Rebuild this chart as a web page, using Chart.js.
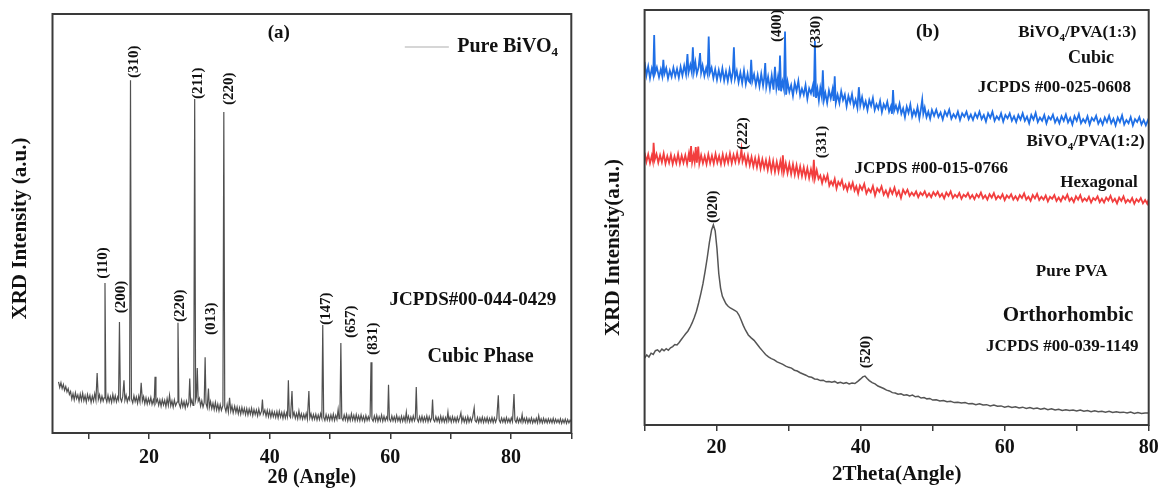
<!DOCTYPE html>
<html>
<head>
<meta charset="utf-8">
<script src="https://cdn.jsdelivr.net/npm/chart.js@4"></script>
<style>
  html, body { margin: 0; padding: 0; background: #fff; overflow: hidden; width: 1158px; height: 488px; }
  canvas { position: absolute; top: 0; }
  #chartA { left: 0; }
  #chartB { left: 590px; }
</style>
</head>
<body>
<canvas id="chartA" width="590" height="488"></canvas>
<canvas id="chartB" width="578" height="488"></canvas>
<script>
// ---- dados ----

// (a) BiVO4 puro: [2θ, intensidade]
const bivo4Pure = [
  [5.0,12.2],[5.2,10.9],[5.4,12.0],[5.6,10.6],[5.8,11.6],[6.0,10.2],[6.2,11.1],[6.4,9.8],[6.6,10.6],[6.8,9.2],
  [7.0,9.9],[7.2,8.1],[7.4,9.4],[7.6,7.9],[7.8,9.6],[8.0,8.2],[8.2,9.1],[8.4,7.6],[8.6,9.3],[8.8,7.8],
  [9.0,9.5],[9.2,7.7],[9.4,8.9],[9.6,7.4],[9.8,9.2],[10.0,7.9],[10.2,9.0],[10.4,7.3],[10.6,8.8],[10.8,7.6],
  [11.0,9.4],[11.2,7.8],[11.4,14.3],[11.6,8.0],[11.8,9.1],[12.0,7.5],[12.2,8.8],[12.4,7.6],[12.55,8.4],[12.7,35.8],
  [12.85,8.2],[13.0,7.4],[13.2,9.0],[13.4,7.5],[13.6,8.7],[13.8,7.3],[14.0,9.2],[14.2,7.6],[14.4,8.9],[14.6,7.4],
  [14.8,8.6],[14.95,7.9],[15.1,26.5],[15.25,8.3],[15.45,7.5],[15.65,8.8],[15.85,12.6],[16.0,7.8],[16.2,9.0],[16.4,7.4],
  [16.6,8.5],[16.78,7.9],[16.93,84.2],[17.08,8.2],[17.3,7.2],[17.5,8.9],[17.7,7.5],[17.9,8.6],[18.1,7.1],[18.3,8.8],
  [18.5,7.4],[18.7,12.0],[18.9,7.6],[19.1,8.7],[19.3,7.0],[19.5,8.4],[19.7,6.9],[19.9,8.2],[20.1,7.1],[20.3,8.5],
  [20.5,6.8],[20.7,7.9],[20.85,7.0],[21.0,13.4],[21.15,7.2],[21.4,8.1],[21.6,6.6],[21.8,7.9],[22.0,6.4],[22.2,8.0],
  [22.4,6.7],[22.6,7.8],[22.8,6.3],[23.0,8.2],[23.2,6.6],[23.4,9.0],[23.6,6.5],[23.8,7.7],[24.0,6.2],[24.2,7.9],
  [24.4,6.5],[24.65,7.4],[24.8,26.3],[24.95,7.2],[25.2,6.1],[25.4,7.8],[25.6,6.3],[25.8,7.5],[26.0,6.0],[26.2,7.6],
  [26.4,6.4],[26.6,7.3],[26.75,13.0],[26.9,6.8],[27.1,7.9],[27.3,6.6],[27.42,7.5],[27.57,79.7],[27.72,7.8],[27.85,8.6],
  [28.0,15.5],[28.15,7.6],[28.35,8.3],[28.55,6.4],[28.75,7.7],[28.95,6.2],[29.15,7.3],[29.3,18.1],[29.45,7.0],[29.65,6.0],
  [29.85,10.6],[30.0,6.1],[30.2,7.5],[30.4,5.8],[30.6,7.1],[30.8,5.6],[31.0,7.3],[31.2,5.5],[31.4,6.9],[31.6,5.3],
  [31.8,6.8],[32.0,5.4],[32.25,6.6],[32.4,76.6],[32.55,6.2],[32.75,5.1],[32.95,6.8],[33.15,5.0],[33.35,8.4],[33.55,5.2],
  [33.75,6.5],[33.95,4.8],[34.2,6.4],[34.4,4.9],[34.6,6.2],[34.8,4.6],[35.0,6.0],[35.2,4.5],[35.4,6.1],[35.6,4.7],
  [35.8,5.9],[36.0,4.4],[36.2,5.8],[36.4,4.3],[36.6,5.7],[36.8,4.5],[37.0,5.9],[37.2,4.2],[37.4,5.6],[37.6,4.4],
  [37.8,5.5],[38.0,4.1],[38.2,5.7],[38.4,4.3],[38.65,5.2],[38.8,8.0],[38.95,4.5],[39.2,5.5],[39.4,4.0],[39.6,5.4],
  [39.8,3.9],[40.0,5.3],[40.2,3.8],[40.4,5.2],[40.6,3.9],[40.8,5.0],[41.0,3.7],[41.2,5.1],[41.4,3.6],[41.6,5.2],
  [41.8,3.8],[42.0,4.9],[42.2,3.5],[42.4,5.0],[42.6,3.6],[42.8,4.8],[42.95,3.9],[43.1,12.6],[43.25,4.2],[43.45,3.7],
  [43.7,10.0],[43.85,4.0],[44.05,4.9],[44.25,3.5],[44.45,4.7],[44.65,3.4],[44.85,5.3],[45.05,3.5],[45.25,4.6],[45.45,3.3],
  [45.65,4.5],[45.85,3.4],[46.05,4.7],[46.25,3.3],[46.5,10.0],[46.65,3.6],[46.85,4.6],[47.05,3.2],[47.25,4.4],[47.45,3.3],
  [47.65,4.5],[47.85,3.1],[48.05,4.3],[48.25,3.2],[48.45,4.6],[48.65,3.5],[48.8,25.8],[48.95,3.8],[49.15,3.0],[49.35,4.4],
  [49.55,3.1],[49.75,4.2],[49.95,3.0],[50.15,4.3],[50.35,3.1],[50.55,4.5],[50.75,3.0],[50.95,4.2],[51.15,3.2],[51.35,5.6],
  [51.5,3.4],[51.65,4.1],[51.8,21.5],[51.95,3.6],[52.15,3.0],[52.35,4.3],[52.55,3.1],[52.75,4.4],[52.95,2.9],[53.15,4.1],
  [53.35,3.0],[53.55,4.6],[53.75,3.1],[53.95,4.2],[54.15,2.9],[54.35,4.4],[54.55,3.0],[54.75,4.1],[54.95,2.9],[55.15,4.3],
  [55.35,3.0],[55.55,4.0],[55.75,2.8],[55.95,4.2],[56.15,3.0],[56.35,3.9],[56.5,3.1],[56.65,4.0],[56.8,16.9],[56.95,3.4],
  [57.15,2.8],[57.35,4.1],[57.55,2.9],[57.75,4.2],[57.95,2.8],[58.15,3.9],[58.35,2.9],[58.55,4.3],[58.75,2.8],[58.95,4.0],
  [59.15,2.9],[59.35,3.8],[59.55,3.1],[59.7,11.5],[59.85,3.3],[60.05,2.8],[60.25,4.1],[60.45,2.9],[60.65,3.9],[60.85,2.8],
  [61.05,4.2],[61.25,2.9],[61.45,3.8],[61.65,2.7],[61.85,4.0],[62.05,2.8],[62.25,3.9],[62.45,2.8],[62.65,5.0],[62.8,2.9],
  [63.0,4.0],[63.2,2.7],[63.4,3.8],[63.6,2.8],[63.8,4.1],[64.0,2.9],[64.15,3.6],[64.3,11.0],[64.45,3.4],[64.65,2.7],
  [64.85,3.9],[65.05,2.8],[65.25,4.0],[65.45,2.7],[65.65,3.8],[65.85,2.8],[66.05,4.1],[66.25,2.7],[66.45,3.9],[66.65,2.8],
  [66.85,3.6],[67.0,8.0],[67.15,3.2],[67.35,2.7],[67.55,3.9],[67.75,2.8],[67.95,3.7],[68.15,2.6],[68.35,4.0],[68.55,2.7],
  [68.75,3.8],[68.95,2.6],[69.15,3.7],[69.35,2.7],[69.55,5.0],[69.7,2.9],[69.9,3.8],[70.1,2.6],[70.3,3.9],[70.5,2.7],
  [70.7,3.7],[70.9,2.6],[71.1,3.8],[71.3,2.7],[71.5,3.6],[71.7,4.8],[71.85,2.7],[72.05,3.8],[72.25,2.6],[72.45,3.7],
  [72.65,2.5],[72.85,3.9],[73.05,2.6],[73.25,3.6],[73.45,2.7],[73.65,3.8],[73.9,6.0],[74.05,3.0],[74.25,2.6],[74.45,3.7],
  [74.65,2.5],[74.85,3.6],[75.05,2.6],[75.25,3.8],[75.45,2.5],[75.65,3.6],[75.85,2.6],[76.05,3.7],[76.25,2.5],[76.45,3.5],
  [76.65,2.6],[76.85,3.7],[77.05,2.5],[77.25,3.6],[77.45,2.6],[77.65,3.5],[77.9,9.0],[78.05,3.1],[78.25,2.5],[78.45,3.6],
  [78.65,2.6],[78.85,3.5],[79.05,2.5],[79.25,3.7],[79.45,2.6],[79.65,3.4],[79.85,2.5],[80.05,3.6],[80.25,2.7],[80.5,9.3],
  [80.65,3.1],[80.85,2.5],[81.05,3.6],[81.25,2.5],[81.45,3.4],[81.65,2.6],[81.85,4.4],[82.0,2.6],[82.2,3.5],[82.4,2.5],
  [82.6,3.6],[82.8,2.4],[83.0,3.4],[83.2,2.5],[83.4,3.6],[83.6,2.4],[83.8,3.3],[84.0,2.5],[84.2,3.5],[84.4,2.4],
  [84.6,4.1],[84.8,2.5],[85.0,3.4],[85.2,2.4],[85.4,3.5],[85.6,2.5],[85.8,3.3],[86.0,2.4],[86.2,3.4],[86.4,2.5],
  [86.6,3.3],[86.8,2.4],[87.0,3.5],[87.2,2.4],[87.4,3.3],[87.6,2.5],[87.8,3.2],[88.0,2.4],[88.2,3.4],[88.4,2.3],
  [88.6,3.2],[88.8,2.4],[89.0,3.3],[89.2,2.3],[89.4,3.2],[89.6,2.4],[89.8,3.1],[90.0,2.6]
];

// (b) BiVO4/PVA (1:3)
const bivo4Pva13 = [
  [10.0,87.5],[10.25,84.2],[10.5,86.4],[10.75,83.6],[11.0,85.9],[11.2,84.4],[11.33,94.0],[11.45,84.8],[11.7,86.2],[12.0,83.8],
  [12.25,85.7],[12.45,84.1],[12.6,88.0],[12.75,84.6],[13.0,86.0],[13.25,83.5],[13.5,85.4],[13.75,83.9],[14.0,86.1],[14.25,84.0],
  [14.5,85.8],[14.75,83.7],[15.0,86.3],[15.25,84.2],[15.5,86.6],[15.75,84.5],[15.95,89.4],[16.1,84.9],[16.35,86.8],[16.55,85.0],
  [16.7,91.0],[16.85,85.2],[17.05,87.4],[17.25,84.6],[17.5,86.2],[17.7,89.6],[17.85,84.9],[18.05,86.6],[18.3,84.1],[18.55,86.0],
  [18.75,84.5],[18.9,93.6],[19.05,84.8],[19.3,86.1],[19.55,83.6],[19.8,85.7],[20.05,83.2],[20.3,85.5],[20.55,83.4],[20.8,85.9],
  [21.05,83.0],[21.3,85.2],[21.55,82.9],[21.8,85.6],[22.05,83.1],[22.25,85.0],[22.4,91.0],[22.55,83.5],[22.8,85.3],[23.05,82.6],
  [23.3,84.9],[23.55,82.4],[23.8,85.4],[24.05,82.2],[24.3,84.6],[24.45,82.9],[24.65,82.5],[24.8,88.0],[24.95,82.8],[25.2,84.5],
  [25.45,81.9],[25.7,84.3],[25.95,81.6],[26.2,84.6],[26.45,81.8],[26.6,83.5],[26.75,87.2],[26.9,81.5],[27.15,83.9],[27.4,81.0],
  [27.65,84.2],[27.9,80.8],[28.1,86.3],[28.3,81.2],[28.5,83.6],[28.65,80.6],[28.8,89.0],[28.95,80.4],[29.15,82.7],[29.35,80.9],
  [29.5,94.8],[29.65,79.6],[29.85,82.7],[30.1,80.3],[30.35,81.9],[30.6,79.3],[30.85,82.4],[31.1,80.5],[31.35,82.9],[31.6,79.4],
  [31.85,81.0],[32.1,79.6],[32.35,81.9],[32.6,78.6],[32.85,81.1],[33.1,79.9],[33.35,81.7],[33.5,79.1],[33.65,92.6],[33.8,78.8],
  [34.0,81.0],[34.2,78.2],[34.4,81.2],[34.6,79.1],[34.75,85.5],[34.9,78.3],[35.1,80.0],[35.35,77.6],[35.6,80.6],[35.85,78.7],
  [36.1,80.9],[36.25,78.1],[36.4,84.0],[36.55,77.6],[36.8,79.6],[37.05,77.6],[37.3,80.4],[37.55,78.3],[37.8,79.6],[38.05,76.8],
  [38.3,79.3],[38.55,77.7],[38.8,79.7],[39.05,76.9],[39.3,78.4],[39.55,76.4],[39.75,81.4],[39.95,77.0],[40.2,79.0],[40.45,76.6],
  [40.7,78.0],[40.95,75.9],[41.2,78.3],[41.45,76.9],[41.7,78.8],[41.95,75.9],[42.2,77.3],[42.45,76.2],[42.7,78.1],[42.95,75.4],
  [43.2,77.3],[43.45,76.3],[43.7,77.9],[43.95,75.5],[44.2,76.8],[44.35,75.0],[44.5,80.7],[44.65,75.7],[44.9,77.0],[45.15,75.5],
  [45.4,77.4],[45.65,75.0],[45.9,76.3],[46.15,74.2],[46.4,76.7],[46.65,75.2],[46.9,77.2],[47.15,74.3],[47.4,75.8],[47.65,74.6],
  [47.9,76.6],[48.15,73.9],[48.35,75.9],[48.55,78.4],[48.7,75.0],[48.9,76.5],[49.15,74.2],[49.4,75.5],[49.65,73.8],[49.9,75.9],
  [50.2,74.5],[50.5,76.0],[50.8,74.2],[51.1,75.3],[51.4,73.6],[51.7,75.6],[52.0,74.5],[52.3,76.0],[52.6,73.8],[52.9,74.9],
  [53.2,74.0],[53.5,75.5],[53.8,73.5],[54.1,75.1],[54.4,74.3],[54.7,75.5],[55.0,73.7],[55.3,74.8],[55.6,73.5],[55.9,75.1],
  [56.2,74.0],[56.5,75.5],[56.8,73.7],[57.1,74.7],[57.4,73.1],[57.7,75.1],[58.0,74.0],[58.3,75.5],[58.6,73.3],[58.9,74.4],
  [59.2,73.6],[59.5,75.1],[59.8,73.1],[60.1,74.7],[60.4,73.9],[60.7,75.1],[61.0,73.3],[61.3,74.4],[61.6,73.0],[61.9,74.7],
  [62.2,73.6],[62.5,75.1],[62.8,73.3],[63.1,74.3],[63.4,72.7],[63.7,74.7],[64.0,73.6],[64.3,75.2],[64.6,73.0],[64.9,74.1],
  [65.2,73.3],[65.5,74.7],[65.8,72.7],[66.1,74.3],[66.4,73.6],[66.7,74.8],[67.0,72.9],[67.3,74.0],[67.6,72.7],[67.9,74.4],
  [68.2,73.3],[68.5,74.8],[68.8,72.9],[69.1,74.0],[69.4,72.4],[69.7,74.4],[70.0,73.3],[70.3,74.9],[70.6,72.7],[70.9,73.7],
  [71.2,72.9],[71.5,74.4],[71.8,72.4],[72.1,74.0],[72.4,73.3],[72.7,74.5],[73.0,72.6],[73.3,73.7],[73.6,72.4],[73.9,74.1],
  [74.2,73.0],[74.5,74.5],[74.8,72.7],[75.1,73.8],[75.4,72.2],[75.7,74.1],[76.0,73.0],[76.3,74.6],[76.6,72.4],[76.9,73.5],
  [77.2,72.7],[77.5,74.2],[77.8,72.2],[78.1,73.7],[78.4,73.0],[78.7,74.2],[79.0,72.4],[79.3,73.5],[79.6,72.2],[80.0,73.9]
];

// (b) BiVO4/PVA (1:2)
const bivo4Pva12 = [
  [10.0,65.6],[10.25,63.4],[10.5,65.2],[10.75,63.1],[11.0,64.9],[11.15,63.6],[11.25,68.0],[11.4,63.9],[11.65,65.3],[11.9,63.2],
  [12.15,65.0],[12.4,63.3],[12.65,65.4],[12.9,63.0],[13.15,64.8],[13.4,63.2],[13.65,65.1],[13.9,62.9],[14.15,64.7],[14.4,63.1],
  [14.65,65.3],[14.9,63.0],[15.15,64.9],[15.4,63.2],[15.65,65.0],[15.9,62.9],[16.15,65.4],[16.3,63.4],[16.45,67.2],[16.6,63.3],
  [16.8,65.1],[16.95,63.5],[17.1,67.0],[17.25,63.2],[17.45,67.1],[17.6,63.0],[17.85,65.0],[18.1,63.1],[18.35,64.8],[18.6,62.9],
  [18.85,65.2],[19.1,63.1],[19.35,64.9],[19.6,63.0],[19.85,65.3],[20.1,63.2],[20.35,64.8],[20.6,62.9],[20.85,65.2],[21.1,63.0],
  [21.35,65.0],[21.6,63.2],[21.85,65.4],[22.1,63.1],[22.35,65.1],[22.6,63.4],[22.85,65.5],[23.1,63.3],[23.3,64.6],[23.45,66.5],
  [23.6,63.5],[23.85,65.0],[24.1,62.8],[24.35,64.9],[24.6,62.6],[24.85,64.6],[25.1,62.3],[25.35,64.3],[25.6,62.1],[25.85,64.4],
  [26.1,61.8],[26.35,64.0],[26.6,61.9],[26.85,63.8],[27.1,61.5],[27.35,63.9],[27.6,61.2],[27.85,63.6],[28.1,61.0],[28.35,63.4],
  [28.6,61.1],[28.85,63.5],[29.05,61.3],[29.2,65.0],[29.35,61.0],[29.6,63.1],[29.85,60.7],[30.1,62.9],[30.35,60.5],[30.6,62.8],
  [30.85,60.3],[31.1,62.6],[31.35,60.1],[31.6,62.3],[31.85,60.0],[32.1,62.1],[32.35,59.8],[32.6,61.9],[32.85,59.5],[33.1,61.6],
  [33.35,59.6],[33.5,63.9],[33.65,59.4],[33.9,61.4],[34.15,59.3],[34.4,60.1],[34.65,58.3],[34.9,60.0],[35.15,58.8],[35.4,60.2],
  [35.65,57.7],[35.9,58.7],[36.15,57.8],[36.4,59.3],[36.65,57.0],[36.9,58.6],[37.15,57.8],[37.4,59.0],[37.65,57.0],[37.9,57.9],
  [38.15,56.5],[38.4,58.2],[38.65,57.0],[38.9,58.4],[39.15,56.5],[39.4,57.5],[39.65,55.8],[39.9,57.7],[40.2,56.7],[40.5,58.1],
  [40.8,55.8],[41.1,56.9],[41.4,56.1],[41.7,57.6],[42.0,55.3],[42.3,57.0],[42.6,56.2],[42.9,57.5],[43.2,55.5],[43.5,56.5],
  [43.8,55.1],[44.1,56.9],[44.4,55.7],[44.7,57.2],[45.0,55.3],[45.3,56.4],[45.6,54.7],[45.9,56.7],[46.2,55.7],[46.5,56.7],
  [46.8,55.2],[47.1,56.0],[47.4,55.3],[47.7,56.3],[48.0,54.9],[48.3,56.0],[48.6,55.4],[48.9,56.3],[49.2,55.0],[49.5,55.8],
  [49.8,54.9],[50.1,56.1],[50.4,55.3],[50.7,56.2],[51.0,55.0],[51.3,55.7],[51.6,54.6],[51.9,56.0],[52.2,55.2],[52.5,56.3],
  [52.8,54.7],[53.1,55.5],[53.4,54.9],[53.7,55.9],[54.0,54.5],[54.3,55.5],[54.6,55.0],[54.9,55.9],[55.2,54.6],[55.5,55.4],
  [55.8,54.4],[56.1,55.6],[56.4,54.9],[56.7,56.0],[57.0,54.6],[57.3,55.3],[57.6,54.3],[57.9,55.6],[58.2,54.8],[58.5,55.9],
  [58.8,54.4],[59.1,55.2],[59.4,54.6],[59.7,55.6],[60.0,54.2],[60.3,55.3],[60.6,54.7],[60.9,55.6],[61.2,54.3],[61.5,55.1],
  [61.8,54.2],[62.1,55.4],[62.4,54.7],[62.7,55.8],[63.0,54.3],[63.3,55.0],[63.6,54.0],[63.9,55.4],[64.2,54.6],[64.5,55.7],
  [64.8,54.2],[65.1,55.0],[65.4,54.3],[65.7,55.3],[66.0,53.9],[66.3,55.0],[66.6,54.5],[66.9,55.4],[67.2,54.0],[67.5,54.8],
  [67.8,53.9],[68.1,55.1],[68.4,54.4],[68.7,55.5],[69.0,54.0],[69.3,54.7],[69.6,53.7],[69.9,55.1],[70.2,54.3],[70.5,55.4],
  [70.8,53.9],[71.1,54.6],[71.4,54.0],[71.7,55.0],[72.0,53.6],[72.3,54.7],[72.6,54.2],[72.9,55.1],[73.2,53.7],[73.5,54.5],
  [73.8,53.6],[74.1,54.8],[74.4,54.1],[74.7,55.2],[75.0,53.8],[75.3,54.5],[75.6,53.4],[75.9,54.8],[76.2,54.0],[76.5,55.1],
  [76.8,53.6],[77.1,54.3],[77.4,53.7],[77.7,54.7],[78.0,53.3],[78.3,54.4],[78.6,53.8],[78.9,54.7],[79.2,53.4],[79.5,54.2],
  [79.8,53.3],[80.0,54.4]
];

// (b) PVA puro
const pvaPure = [
  [10.0,16.1],[10.3,16.9],[10.6,16.4],[10.9,17.3],[11.2,17.0],[11.5,17.9],[11.8,18.1],[12.1,17.6],[12.4,18.3],[12.7,17.9],
  [13.0,18.4],[13.3,18.0],[13.6,18.6],[13.9,18.9],[14.2,19.4],[14.5,19.3],[14.8,19.9],[15.1,20.6],[15.4,21.3],[15.7,22.0],
  [16.0,22.6],[16.3,23.5],[16.6,24.6],[16.9,25.9],[17.2,27.4],[17.5,29.4],[17.8,31.6],[18.1,34.0],[18.4,37.0],[18.7,40.3],
  [19.0,44.0],[19.3,47.0],[19.55,48.2],[19.8,46.8],[20.05,42.5],[20.3,36.5],[20.55,33.0],[20.8,31.0],[21.05,30.1],[21.3,29.2],
  [21.6,28.6],[21.9,28.2],[22.2,27.9],[22.5,27.6],[22.8,27.3],[23.1,26.5],[23.4,25.3],[23.7,24.0],[24.0,22.9],[24.4,21.7],
  [24.8,21.0],[25.2,20.4],[25.6,19.5],[26.0,18.6],[26.4,17.8],[26.8,17.0],[27.2,16.4],[27.6,16.0],[28.0,15.7],[28.4,15.2],
  [28.8,14.9],[29.2,14.6],[29.6,14.2],[30.0,13.9],[30.4,13.7],[30.8,13.2],[31.2,13.0],[31.6,12.6],[32.0,12.3],[32.4,12.0],
  [32.8,11.6],[33.2,11.5],[33.6,11.1],[34.0,11.0],[34.4,10.7],[34.8,10.8],[35.2,10.4],[35.6,10.5],[36.0,10.3],[36.4,10.5],
  [36.8,10.1],[37.2,10.3],[37.6,10.0],[38.0,10.2],[38.4,9.9],[38.8,10.1],[39.2,10.0],[39.6,10.5],[40.0,11.1],[40.3,11.6],
  [40.6,11.8],[40.9,11.2],[41.2,10.7],[41.6,10.2],[42.0,9.9],[42.4,9.4],[42.8,9.1],[43.2,8.8],[43.6,8.4],[44.0,8.2],
  [44.4,7.8],[44.8,7.7],[45.2,7.4],[45.6,7.5],[46.0,7.2],[46.4,7.3],[46.8,7.0],[47.2,7.2],[47.6,6.8],[48.0,6.9],
  [48.4,6.5],[48.8,6.6],[49.2,6.3],[49.6,6.4],[50.0,6.0],[50.5,6.1],[51.0,5.8],[51.5,5.9],[52.0,5.6],[52.5,5.7],
  [53.0,5.4],[53.5,5.5],[54.0,5.3],[54.5,5.4],[55.0,5.1],[55.5,5.2],[56.0,4.9],[56.5,5.1],[57.0,4.8],[57.5,4.9],
  [58.0,4.6],[58.5,4.8],[59.0,4.5],[59.5,4.6],[60.0,4.3],[60.5,4.5],[61.0,4.2],[61.5,4.4],[62.0,4.1],[62.5,4.3],
  [63.0,4.0],[63.5,4.2],[64.0,3.9],[64.5,4.1],[65.0,3.8],[65.5,4.0],[66.0,3.7],[66.5,3.9],[67.0,3.6],[67.5,3.8],
  [68.0,3.5],[68.5,3.7],[69.0,3.5],[69.5,3.6],[70.0,3.4],[70.5,3.6],[71.0,3.3],[71.5,3.5],[72.0,3.2],[72.5,3.4],
  [73.0,3.2],[73.5,3.3],[74.0,3.1],[74.5,3.3],[75.0,3.0],[75.5,3.2],[76.0,3.0],[76.5,3.1],[77.0,2.9],[77.5,3.1],
  [78.0,2.8],[78.5,3.0],[79.0,2.8],[79.5,2.9],[80.0,2.9]
];

// eixos
const ticksA = [10, 20, 30, 40, 50, 60, 70, 80, 90];
const ticksB = [10, 20, 30, 40, 50, 60, 70, 80];
const labeledTicks = [20, 40, 60, 80];

// índices de Miller (2θ e intensidade da base do rótulo)
const peakTagsA = [
  ['(110)', 12.4, 36.8], ['(200)', 15.4, 28.6], ['(310)', 17.45, 84.7], ['(220)', 25.2, 26.5],
  ['(211)', 28.2, 79.7], ['(013)', 30.3, 23.4], ['(220)', 33.3, 78.3], ['(147)', 49.3, 25.8],
  ['(657)', 53.5, 22.7], ['(831)', 57.2, 18.6]
];
const peakTagsB = [
  ['(400)', 28.4, 92.3], ['(330)', 33.8, 90.8], ['(222)', 23.7, 66.3], ['(331)', 34.7, 64.3],
  ['(020)', 19.45, 48.7], ['(520)', 40.7, 13.7]
];

// textos ("_" marca o índice subscrito)
const notesA = [
  ['(a)', 41.5, 95.5, 19],
  ['JCPDS#00-044-0429', 73.7, 31.7, 19],
  ['Cubic Phase', 74.95, 18.1, 20]
];
const notesB = [
  ['(b)', 49.3, 94.7, 19],
  ['BiVO_4/PVA(1:3)', 70.1, 94.5, 17],
  ['Cubic', 72.0, 88.4, 18],
  ['JCPDS #00-025-0608', 66.9, 81.2, 17],
  ['BiVO_4/PVA(1:2)', 71.25, 68.2, 17],
  ['JCPDS #00-015-0766', 49.8, 61.9, 17],
  ['Hexagonal', 73.1, 58.3, 17],
  ['Pure PVA', 69.3, 36.9, 17],
  ['Orthorhombic', 68.8, 26.3, 21],
  ['JCPDS #00-039-1149', 68.0, 18.9, 17]
];

const FONT = '"Liberation Serif", "Times New Roman", serif';

// texto com subscrito: "BiVO_4" -> BiVO + 4 rebaixado
function drawRich(ctx, text, px, py, size, align) {
  const parts = text.split('_');
  const segs = [[parts[0], false]];
  parts.slice(1).forEach(p => { segs.push([p[0], true]); if (p.length > 1) segs.push([p.slice(1), false]); });
  const subSize = Math.round(size * 0.65);
  let total = 0;
  segs.forEach(s => {
    ctx.font = `bold ${s[1] ? subSize : size}px ${FONT}`;
    s.push(ctx.measureText(s[0]).width);
    total += s[2];
  });
  let cx = align === 'left' ? px : px - total / 2;
  ctx.textAlign = 'left';
  ctx.textBaseline = 'middle';
  segs.forEach(s => {
    ctx.font = `bold ${s[1] ? subSize : size}px ${FONT}`;
    ctx.fillText(s[0], cx, s[1] ? py + size * 0.3 : py);
    cx += s[2];
  });
}

// moldura, título do eixo y, rótulos e legenda
const xrdDecor = {
  id: 'xrdDecor',
  afterDraw(chart, args, opts) {
    const { ctx, chartArea: a, scales: { x, y } } = chart;
    ctx.save();
    ctx.strokeStyle = '#3a3a3a';
    ctx.lineWidth = 2;
    ctx.strokeRect(a.left, a.top, a.right - a.left, a.bottom - a.top);

    ctx.fillStyle = '#111';
    // título do eixo y
    ctx.save();
    ctx.translate(a.left - opts.yTitleGap, (a.top + a.bottom) / 2 + opts.yTitleShift);
    ctx.rotate(-Math.PI / 2);
    ctx.font = `bold 21px ${FONT}`;
    ctx.textAlign = 'center';
    ctx.textBaseline = 'middle';
    ctx.fillText(opts.yTitle, 0, 0);
    ctx.restore();

    // índices dos picos (verticais)
    opts.peaks.forEach(([t, px, py]) => {
      ctx.save();
      ctx.translate(x.getPixelForValue(px), y.getPixelForValue(py));
      ctx.rotate(-Math.PI / 2);
      ctx.font = `bold 15px ${FONT}`;
      ctx.textAlign = 'left';
      ctx.textBaseline = 'middle';
      ctx.fillText(t, 0, 0);
      ctx.restore();
    });

    opts.notes.forEach(([t, px, py, size]) => {
      drawRich(ctx, t, x.getPixelForValue(px), y.getPixelForValue(py), size, 'center');
    });

    if (opts.legend) {
      const L = opts.legend;
      const ly = y.getPixelForValue(L.y);
      ctx.strokeStyle = L.color;
      ctx.lineWidth = 1.5;
      ctx.beginPath();
      ctx.moveTo(x.getPixelForValue(L.x1), ly);
      ctx.lineTo(x.getPixelForValue(L.x2), ly);
      ctx.stroke();
      drawRich(ctx, L.text, x.getPixelForValue(L.textX), ly, 20, 'left');
    }
    ctx.restore();
  }
};

function makeChart(id, datasets, cfg) {
  return new Chart(document.getElementById(id), {
    type: 'line',
    data: { datasets },
    options: {
      responsive: false,
      animation: false,
      layout: { padding: { left: 0, right: cfg.padRight, top: cfg.padTop, bottom: 0 } },
      elements: { point: { radius: 0 }, line: { tension: 0 } },
      plugins: {
        legend: { display: false },
        tooltip: { enabled: false },
        xrdDecor: cfg.decor
      },
      scales: {
        x: {
          type: 'linear',
          min: cfg.xMin,
          max: cfg.xMax,
          afterBuildTicks: s => { s.ticks = cfg.ticks.map(v => ({ value: v })); },
          afterFit: s => { s.height = cfg.xHeight; },
          ticks: {
            autoSkip: false,
            maxRotation: 0,
            padding: cfg.tickPad,
            color: '#111',
            font: { family: FONT, size: 20, weight: 'bold' },
            callback: v => labeledTicks.includes(v) ? String(v) : ''
          },
          grid: { drawOnChartArea: false, drawTicks: true, tickLength: 6, color: '#3a3a3a', lineWidth: 1.5 },
          border: { display: false },
          title: {
            display: true,
            text: cfg.xTitle,
            color: '#111',
            font: { family: FONT, size: cfg.xTitleSize, weight: 'bold', lineHeight: 1 },
            padding: { top: 0, bottom: cfg.xTitlePad }
          }
        },
        y: {
          min: 0,
          max: 100,
          afterFit: s => { s.width = cfg.yWidth; },
          ticks: { display: false },
          grid: { display: false },
          border: { display: false }
        }
      }
    },
    plugins: [xrdDecor]
  });
}

const asXY = arr => arr.map(([x, y]) => ({ x, y }));

makeChart('chartA', [
  { label: 'Pure BiVO4', data: asXY(bivo4Pure), borderColor: '#505050', borderWidth: 1.2 }
], {
  xMin: 4, xMax: 90, ticks: ticksA,
  padRight: 18.7, padTop: 14, yWidth: 52.5, xHeight: 55, tickPad: 7,
  xTitle: '2θ (Angle)', xTitleSize: 20, xTitlePad: 0,
  decor: {
    yTitle: 'XRD Intensity (a.u.)', yTitleGap: 31.5, yTitleShift: 5,
    peaks: peakTagsA, notes: notesA,
    legend: { x1: 62.4, x2: 69.7, y: 92.1, textX: 71.1, text: 'Pure BiVO_4', color: '#c8c8c8' }
  }
});

makeChart('chartB', [
  { label: 'BiVO4/PVA(1:3)', data: asXY(bivo4Pva13), borderColor: '#1f6fe6', borderWidth: 1.8 },
  { label: 'BiVO4/PVA(1:2)', data: asXY(bivo4Pva12), borderColor: '#f23e3e', borderWidth: 1.8 },
  { label: 'Pure PVA', data: asXY(pvaPure), borderColor: '#555555', borderWidth: 1.5 }
], {
  xMin: 10, xMax: 80, ticks: ticksB,
  padRight: 19.3, padTop: 10, yWidth: 54.6, xHeight: 63, tickPad: 5,
  xTitle: '2Theta(Angle)', xTitleSize: 21, xTitlePad: 2.5,
  decor: {
    yTitle: 'XRD Intensity(a.u.)', yTitleGap: 31, yTitleShift: 30,
    peaks: peakTagsB, notes: notesB
  }
});
</script>
</body>
</html>
